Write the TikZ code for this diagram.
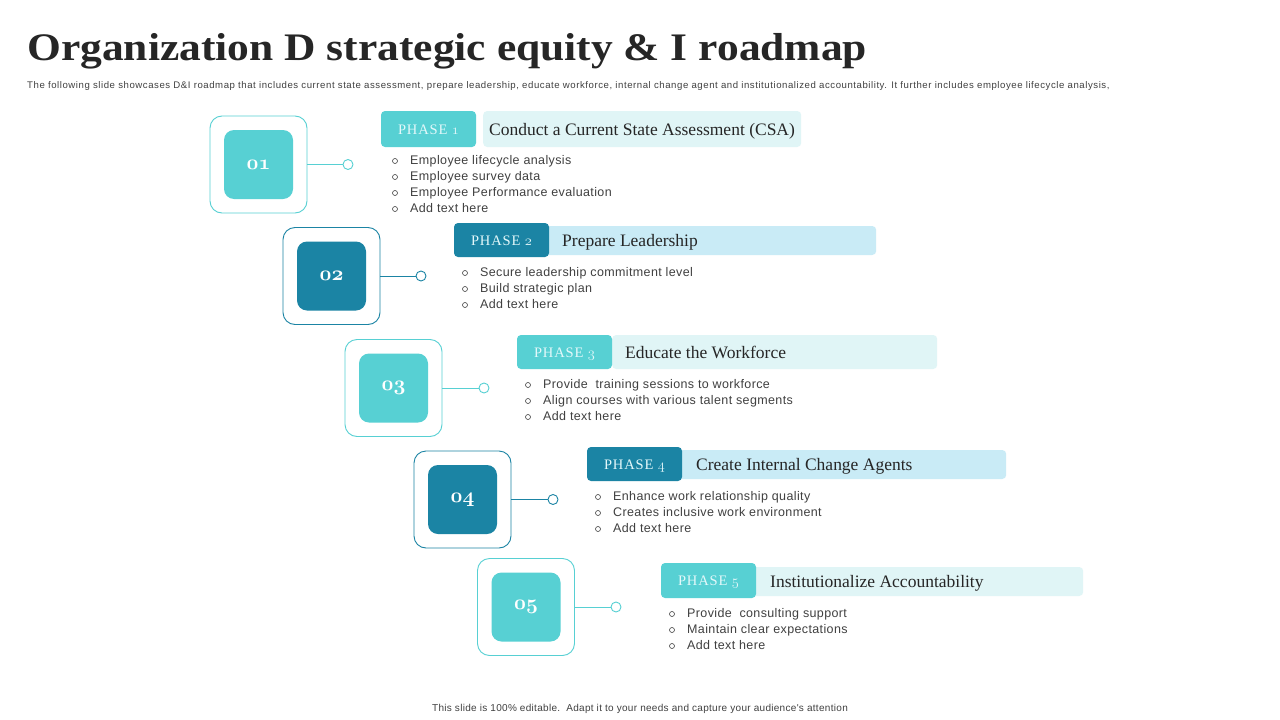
\documentclass[tikz,border=0pt]{standalone}
\usepackage{fontspec}
\setmainfont{Liberation Serif}
\newfontfamily\bodyfont{Liberation Sans}[LetterSpace=3]
\newfontfamily\subfont{Liberation Sans}[LetterSpace=5.8]
\newfontfamily\tagfont{Liberation Serif}[LetterSpace=6]
\definecolor{teal1}{RGB}{87,208,211}
\definecolor{dark1}{RGB}{27,132,164}
\definecolor{bandA}{RGB}{224,245,246}
\definecolor{bandB}{RGB}{201,235,246}
\definecolor{tagtxt}{RGB}{228,248,250}
\definecolor{txtgray}{RGB}{64,64,64}
\definecolor{titlec}{RGB}{38,38,38}
\newcommand{\osn}[1]{{\usefont{OML}{cmm}{b}{it}#1}}
\newcommand{\osm}[1]{{\usefont{OML}{cmm}{m}{it}#1}}
\tikzset{
  outerbox/.style={draw=#1, line width=0.9pt, fill=white, rounded corners=12pt, minimum width=97pt, minimum height=97pt, inner sep=0pt},
  innerbox/.style={fill=#1, rounded corners=10pt, minimum width=69pt, minimum height=69pt, inner sep=0pt, text=white, font=\fontsize{21.5}{21.5}\selectfont},
  dotc/.style={draw=#1, line width=0.9pt, fill=white, circle, minimum size=10pt, inner sep=0pt},
  linkline/.style={draw=#1, line width=0.9pt},
  tagbox/.style={fill=#1, rounded corners=4pt, minimum width=95pt, inner sep=0pt},
  tagtext/.style={anchor=base, inner sep=0pt, text=tagtxt, font=\tagfont\fontsize{14.5}{14.5}\selectfont},
  bandbox/.style={fill=#1, rounded corners=4pt, inner sep=0pt, anchor=west},
  bandtxt/.style={anchor=base west, inner sep=0pt, text=titlec, font=\fontsize{17.5}{17.5}\selectfont},
  bul/.style={anchor=base west, inner sep=0pt, text=txtgray, font=\bodyfont\fontsize{12.5}{12.5}\selectfont},
  bmark/.style={draw=txtgray, line width=0.6pt, circle, minimum size=5pt, inner sep=0pt},
}
\begin{document}
\begin{tikzpicture}[x=1pt,y=-1pt]
\useasboundingbox[fill=white] (0,0) rectangle (1280,720);
% title
\node[anchor=base west, inner sep=0pt, text=titlec, font=\fontsize{39}{39}\selectfont\bfseries] (title) at (27,60.5) {\scalebox{1.115}[1]{Organization D strategic equity \& I roadmap}};
\node[anchor=base west, inner sep=0pt, text=txtgray, font=\subfont\fontsize{9.6}{9.6}\selectfont] (sub) at (27,88.5) {The following slide showcases D\&I roadmap that includes current state assessment, prepare leadership, educate workforce, internal change agent and institutionalized accountability. It further includes employee lifecycle analysis,};
\node[anchor=base, inner sep=0pt, text=txtgray, font=\bodyfont\fontsize{10}{10}\selectfont] (foot) at (640,711.5) {This slide is 100\% editable.\ \ Adapt it to your needs and capture your audience's attention};

\newcommand{\phase}[6]{%
  % #1 id, #2 color, #3 box x center, #4 box y center, #5 circle x
  \node[outerbox=#2] (o#1) at (#3,#4) {};
  \node[innerbox=#2] (i#1) at (#3,#4) {\osn{0#1}};
  \node[dotc=#2] (c#1) at (#5,#4) {};
  \draw[linkline=#2] (o#1.east) -- (c#1.west);
}
\phase{1}{teal1}{258.5}{164.5}{348}{}
\phase{2}{dark1}{331.5}{276}{421}{}
\phase{3}{teal1}{393.5}{388}{484}{}
\phase{4}{dark1}{462.5}{499.5}{553}{}
\phase{5}{teal1}{526}{607}{616}{}

% bands (drawn under tags)
\node[bandbox=bandA, minimum width=318pt, minimum height=36pt] (b1) at (483,129) {};
\node[bandbox=bandB, minimum width=332pt, minimum height=29pt] (b2) at (544,240.5) {};
\node[bandbox=bandA, minimum width=325pt, minimum height=34pt] (b3) at (612,352) {};
\node[bandbox=bandB, minimum width=329pt, minimum height=29pt] (b4) at (677,464.5) {};
\node[bandbox=bandA, minimum width=332pt, minimum height=29pt] (b5) at (751,581.5) {};

% tags
\node[tagbox=teal1, minimum height=36pt] (t1) at (428.5,129) {};
\node[tagbox=dark1, minimum height=34pt] (t2) at (501.5,240) {};
\node[tagbox=teal1, minimum height=34pt] (t3) at (564.5,352) {};
\node[tagbox=dark1, minimum height=34pt] (t4) at (634.5,464) {};
\node[tagbox=teal1, minimum height=35pt] (t5) at (708.5,580.5) {};
\node[tagtext] (p1) at ([yshift=-5]t1.center) {PHASE \osm{1}};
\node[tagtext] (p2) at ([yshift=-5]t2.center) {PHASE \osm{2}};
\node[tagtext] (p3) at ([yshift=-5]t3.center) {PHASE \osm{3}};
\node[tagtext] (p4) at ([yshift=-5]t4.center) {PHASE \osm{4}};
\node[tagtext] (p5) at ([yshift=-5]t5.center) {PHASE \osm{5}};

% band texts
\node[bandtxt] (h1) at (489,135) {Conduct a Current State Assessment (CSA)};
\node[bandtxt] (h2) at (562,246.5) {Prepare Leadership};
\node[bandtxt] (h3) at (625,358) {Educate the Workforce};
\node[bandtxt] (h4) at (696,470.5) {Create Internal Change Agents};
\node[bandtxt] (h5) at (770,587.5) {Institutionalize Accountability};

% bullets
\foreach \t [count=\k] in {Employee lifecycle analysis, Employee survey data, Employee Performance evaluation, Add text here}
  {\node[bmark] (m1-\k) at (395,{161+16*(\k-1)}) {};
   \node[bul] (l1-\k) at (410,{164.5+16*(\k-1)}) {\t};}
\foreach \t [count=\k] in {Secure leadership commitment level, Build strategic plan, Add text here}
  {\node[bmark] (m2-\k) at (465,{273+16*(\k-1)}) {};
   \node[bul] (l2-\k) at (480,{276.5+16*(\k-1)}) {\t};}
\foreach \t [count=\k] in {Provide\ \ training sessions to workforce, Align courses with various talent segments, Add text here}
  {\node[bmark] (m3-\k) at (528,{385+16*(\k-1)}) {};
   \node[bul] (l3-\k) at (543,{388.5+16*(\k-1)}) {\t};}
\foreach \t [count=\k] in {Enhance work relationship quality, Creates inclusive work environment, Add text here}
  {\node[bmark] (m4-\k) at (598,{497+16*(\k-1)}) {};
   \node[bul] (l4-\k) at (613,{500.5+16*(\k-1)}) {\t};}
\foreach \t [count=\k] in {Provide\ \ consulting support, Maintain clear expectations, Add text here}
  {\node[bmark] (m5-\k) at (672,{614+16*(\k-1)}) {};
   \node[bul] (l5-\k) at (687,{617.5+16*(\k-1)}) {\t};}
\end{tikzpicture}
\end{document}
